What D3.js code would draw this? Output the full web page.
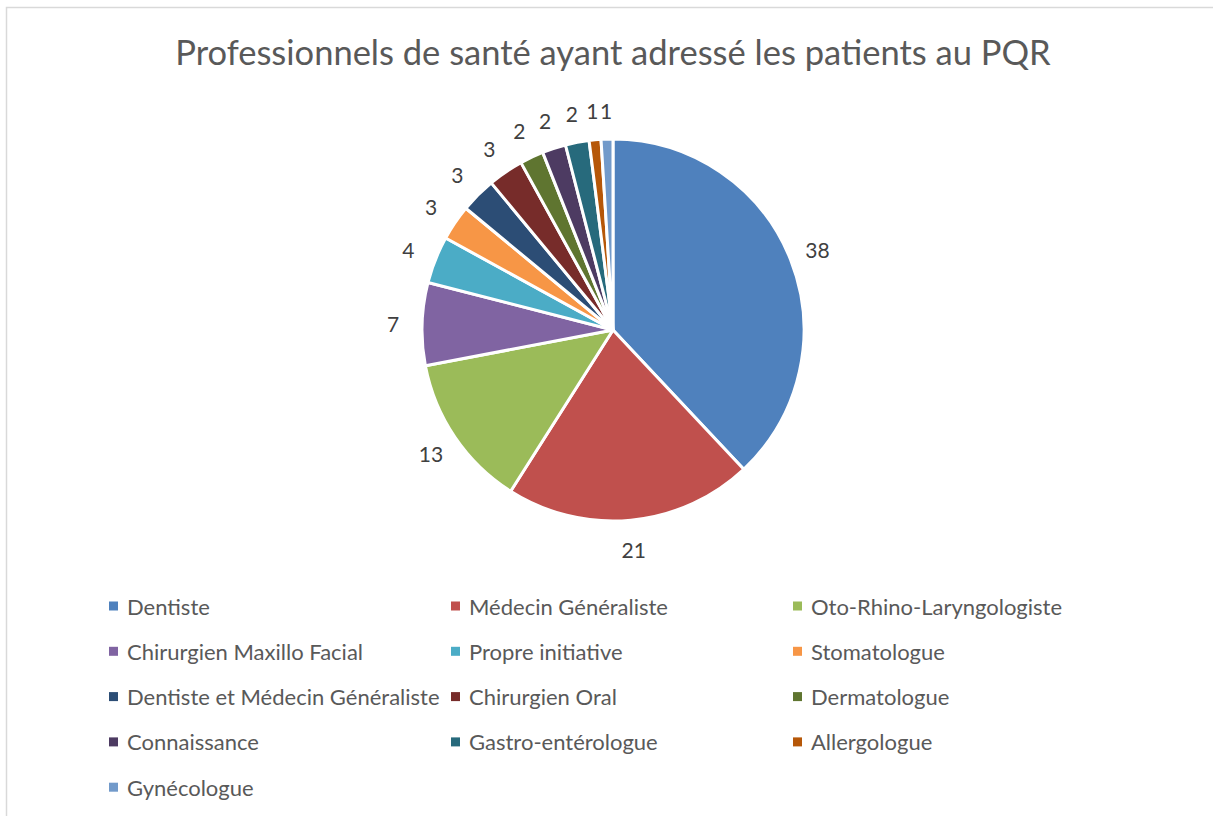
<!DOCTYPE html>
<html><head><meta charset="utf-8">
<script src="https://cdn.jsdelivr.net/npm/d3@7"></script>
<style>body{margin:0;background:#fff;}svg{display:block;font-family:Lato,"Open Sans",sans-serif;}</style>
</head><body>
<svg id="c" width="1213" height="816"></svg>
<script>
const categories = ["Dentiste","Médecin Généraliste","Oto-Rhino-Laryngologiste","Chirurgien Maxillo Facial","Propre initiative","Stomatologue","Dentiste et Médecin Généraliste","Chirurgien Oral","Dermatologue","Connaissance","Gastro-entérologue","Allergologue","Gynécologue"];
const values = [38,21,13,7,4,3,3,3,2,2,2,1,1];
const colors = ["#4F81BD","#C0504D","#9BBB59","#8064A2","#4BACC6","#F79646","#2C4D75","#772C2A","#5F7530","#4D3B62","#276A7C","#B65708","#729ACA"];
const title = "Professionnels de santé ayant adressé les patients au PQR";

const svg = d3.select("#c");
svg.append("rect").attr("x",6.5).attr("y",7.5).attr("width",1220).attr("height",820)
  .attr("fill","#fff").attr("stroke","#d9d9d9").attr("stroke-width",1.5);

svg.append("text").attr("x",613).attr("y",65).attr("text-anchor","middle")
  .attr("font-size",34.5).attr("fill","#595959").text(title);

const cx=613, cy=330, r=191;
const data = categories.map((c,i)=>({name:c,value:values[i],color:colors[i]}));
const pie = d3.pie().value(d=>d.value).sort(null);
const arcs = pie(data);
const arc = d3.arc().innerRadius(0).outerRadius(r);
const g = svg.append("g").attr("transform",`translate(${cx},${cy})`);
g.selectAll("path").data(arcs).join("path").attr("d",arc)
  .attr("fill",d=>d.data.color).attr("stroke","#fff").attr("stroke-width",3).attr("stroke-linejoin","round");

const lr = 220;
g.selectAll("text.lbl").data(arcs).join("text").attr("class","lbl")
  .attr("x",d=>{const a=(d.startAngle+d.endAngle)/2;return Math.sin(a)*lr;})
  .attr("y",d=>{const a=(d.startAngle+d.endAngle)/2;return -Math.cos(a)*lr;})
  .attr("text-anchor","middle").attr("dominant-baseline","central")
  .attr("font-size",21).attr("fill","#404040").text(d=>d.data.value);

const colX = [108,450,792], rowY0=606, rowH=45.3;
const lg = svg.append("g");
data.forEach((d,i)=>{
  const col=i%3,row=Math.floor(i/3);
  const x=colX[col], y=rowY0+row*rowH;
  lg.append("rect").attr("x",x+1).attr("y",y-4.5).attr("width",9).attr("height",9).attr("fill",d.color);
  lg.append("text").attr("x",x+19).attr("y",y).attr("dominant-baseline","central")
    .attr("font-size",22).attr("fill","#595959").text(d.name);
});
</script>
</body></html>
